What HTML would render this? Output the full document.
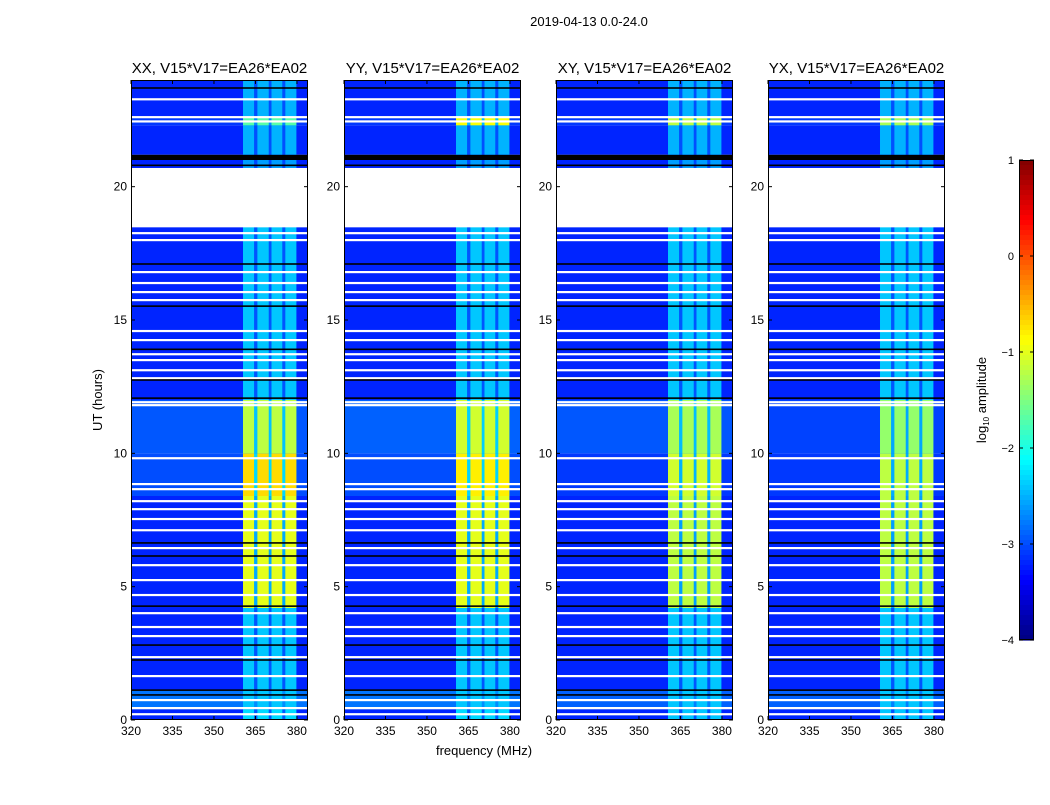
<!DOCTYPE html>
<html><head><meta charset="utf-8"><style>
body{margin:0;background:#fff;width:1050px;height:800px;overflow:hidden}
svg text{font-family:"Liberation Sans",sans-serif;fill:#000}
</style></head><body>
<svg id="s" width="1050" height="800" xmlns="http://www.w3.org/2000/svg">
<text x="589" y="26" font-size="13" text-anchor="middle">2019-04-13 0.0-24.0</text>
<text x="484" y="755" font-size="13" text-anchor="middle">frequency (MHz)</text>
<text transform="translate(102,400) rotate(-90)" font-size="13" text-anchor="middle">UT (hours)</text>
<text transform="translate(986,400) rotate(-90)" font-size="13" text-anchor="middle">log<tspan font-size="8" dy="3">10</tspan><tspan dy="-3"> amplitude</tspan></text>
<g id="panels"></g>
<g id="cbar"></g>
</svg>
<script>
const panelTitles=["XX, V15*V17=EA26*EA02","YY, V15*V17=EA26*EA02","XY, V15*V17=EA26*EA02","YX, V15*V17=EA26*EA02"];
const xTicks=[320,335,350,365,380];
const yTicks=[0,5,10,15,20];
const cbTicks=[1,0,-1,-2,-3,-4];
const cbLabels=["1","0","\u22121","\u22122","\u22123","\u22124"];
const colStart=[360.5,365.7,370.8,375.8];
const colEnd=[364.5,369.8,374.7,379.8];
const segStart=[0,0.4,1.1,4.2,8.4,10,12,18.5,20.7,21.0,21.2,22.3,22.6];
const segEnd=[0.4,1.1,4.2,8.4,10,12,18.5,20.7,21.0,21.2,22.3,22.6,24];
const bgXX=[-3.2,-2.8,-3.2,-3.2,-3.0,-2.95,-3.2,null,-3.2,-5,-3.2,-3.1,-3.2];
const colXX=[-2.3,-2.4,-2.4,-1.0,-0.7,-1.2,-2.4,null,-2.6,-5,-2.5,-1.7,-2.5];
const bgYY=[-3.2,-2.8,-3.2,-3.2,-3.0,-2.9,-3.2,null,-3.2,-5,-3.2,-3.1,-3.2];
const colYY=[-2.3,-2.4,-2.4,-1.0,-0.8,-1.1,-2.4,null,-2.6,-5,-2.5,-0.9,-2.5];
const bgXY=[-3.2,-2.9,-3.2,-3.2,-3.1,-2.95,-3.2,null,-3.2,-5,-3.2,-3.1,-3.2];
const colXY=[-2.4,-2.4,-2.4,-1.2,-1.1,-1.3,-2.4,null,-2.6,-5,-2.5,-1.2,-2.5];
const bgYX=[-3.2,-2.9,-3.2,-3.2,-3.1,-3.05,-3.2,null,-3.2,-5,-3.2,-3.1,-3.2];
const colYX=[-2.4,-2.4,-2.4,-1.2,-1.2,-1.4,-2.4,null,-2.6,-5,-2.5,-1.3,-2.5];
const whiteLines=[23.28,22.61,22.45,18.52,18.26,18.0,16.8,16.39,16.05,15.75,14.59,14.25,13.72,13.5,13.12,12.82,11.92,11.81,9.82,8.85,8.66,8.21,7.91,7.54,7.12,6.45,5.81,5.25,4.69,4.01,3.49,3.15,2.36,1.65,0.75,0.45,0.22];
const blackLines=[23.7,20.8,17.1,15.52,13.9,12.75,12.07,6.64,6.15,4.27,2.81,2.25,1.12,0.94];
const bgSets=[bgXX,bgYY,bgXY,bgYX], colSets=[colXX,colYY,colXY,colYX];
const panelLeft=[131,344,556,768];
const PW=177,PT=80,PH=640,FMIN=320,FMAX=384,TMAX=24;
const NS="http://www.w3.org/2000/svg";
function jet(v){let t=(v+4)/5;t=Math.max(0,Math.min(1,t));
 const f=x=>Math.max(0,Math.min(1,x));
 const r=f(Math.min(4*t-1.5,-4*t+4.5)),g=f(Math.min(4*t-0.5,-4*t+3.5)),b=f(Math.min(4*t+0.5,-4*t+2.5));
 return `rgb(${Math.round(r*255)},${Math.round(g*255)},${Math.round(b*255)})`;}
function el(tag,attrs,parent){const e=document.createElementNS(NS,tag);for(const k in attrs)e.setAttribute(k,attrs[k]);parent.appendChild(e);return e;}
const root=document.getElementById('panels');
panelTitles.forEach((title,p)=>{
 const x0=panelLeft[p];
 const xs=f=>x0+(f-FMIN)/(FMAX-FMIN)*PW;
 const ys=t=>PT+PH-(t/TMAX)*PH;
 const g=el('g',{},root);
 
 
 for(let s=0;s<segStart.length;s++){
  const bg=bgSets[p][s],cl=colSets[p][s];
  if(bg===null)continue;
  const y1=ys(segEnd[s]),h=ys(segStart[s])-y1;
  const cb=bg<=-4.5?'#000':jet(bg);
  const r=el('rect',{x:x0,y:y1,width:PW,height:h,fill:cb},g);
  
  
  const gr=el('rect',{x:xs(colStart[0]),y:y1,width:xs(colEnd[3])-xs(colStart[0]),height:h,fill:cl<=-4.5?'#000':jet(bg*0.7+cl*0.3)},g);
  
  
  for(let c=0;c<colStart.length;c++){
   const cr=el('rect',{x:xs(colStart[c]),y:y1,width:xs(colEnd[c])-xs(colStart[c]),height:h,fill:cl<=-4.5?'#000':jet(cl)},g);
   
   
  }
 }
 whiteLines.forEach(t=>{const l=el('rect',{x:x0,y:ys(t)-1,width:PW,height:2.2,fill:'#fff'},g);
  
  });
 blackLines.forEach(t=>{const l=el('rect',{x:x0,y:ys(t)-0.8,width:PW,height:1.6,fill:'#000'},g);
  
  });
 const fr=el('rect',{x:x0+0.5,y:PT+0.5,width:PW-1,height:PH-1,fill:'none',stroke:'#000','stroke-width':1},g);
 
 
 const tt=el('text',{x:x0+PW/2,y:73,'font-size':15,'text-anchor':'middle'},g);tt.textContent=title;
 
 
 xTicks.forEach(f=>{const x=xs(f);
  el('line',{x1:x,x2:x,y1:PT+PH,y2:PT+PH-4,stroke:'#000'},g);
  el('line',{x1:x,x2:x,y1:PT,y2:PT+4,stroke:'#000'},g);
  const t=el('text',{x:x,y:PT+PH+15,'font-size':12,'text-anchor':'middle'},g);t.textContent=f;
  
  });
 yTicks.forEach(v=>{const y=ys(v);
  el('line',{x1:x0,x2:x0+4,y1:y,y2:y,stroke:'#000'},g);
  el('line',{x1:x0+PW,x2:x0+PW-4,y1:y,y2:y,stroke:'#000'},g);
  const t=el('text',{x:x0-4,y:y+4,'font-size':12,'text-anchor':'end'},g);t.textContent=v;
  
  });
});
const cb=document.getElementById('cbar');
const CBX=1019,CBW=15,CBT=160,CBH=480;
const cy=v=>CBT+(1-v)/5*CBH;
for(let i=0;i<96;i++){const v=1-i*5/96;
 const r=el('rect',{x:CBX,y:cy(v),width:CBW,height:CBH/96+0.6,fill:jet(v-5/192)},cb);
 
 }
el('rect',{x:CBX+0.5,y:CBT+0.5,width:CBW-1,height:CBH-1,fill:'none',stroke:'#000'},cb);
cbTicks.forEach((v,i)=>{const y=cy(v);
 el('line',{x1:CBX,x2:CBX+4,y1:y,y2:y,stroke:'#000'},cb);
 el('line',{x1:CBX+CBW,x2:CBX+CBW-4,y1:y,y2:y,stroke:'#000'},cb);
 const t=el('text',{x:CBX-5,y:y+4,'font-size':11,'text-anchor':'end'},cb);t.textContent=cbLabels[i];
 
 });
</script>
</body></html>
